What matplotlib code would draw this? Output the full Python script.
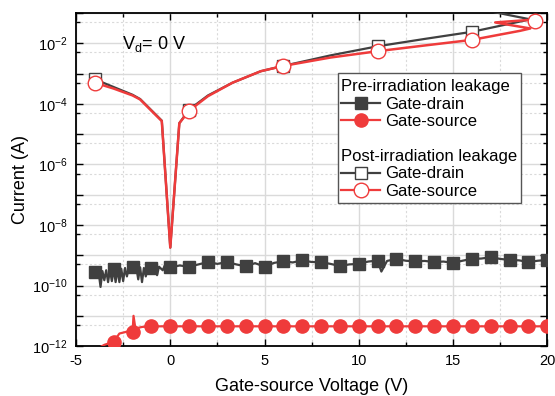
import numpy as np
import matplotlib.pyplot as plt
from matplotlib.lines import Line2D
from matplotlib.patches import Rectangle
from matplotlib.ticker import LogLocator, FuncFormatter, MultipleLocator

plt.rcParams['font.family'] = ['Liberation Sans', 'DejaVu Sans']
plt.rcParams['mathtext.fontset'] = 'custom'
plt.rcParams['mathtext.rm'] = 'Liberation Sans'
plt.rcParams['mathtext.default'] = 'regular'
plt.rcParams['axes.unicode_minus'] = False

# pre-irradiation gate-drain leakage (dense sweep, markers at integer volts)
pre_gd_v = [-4.0, -3.8, -3.7, -3.6, -3.5, -3.4, -3.3, -3.2, -3.1, -3.0, -2.9, -2.8,
            -2.7, -2.6, -2.5, -2.4, -2.3, -2.2, -2.0, -1.8, -1.7, -1.6, -1.5, -1.4,
            -1.3, -1.2, -1.0, -0.8, -0.7, -0.6, -0.4, -0.3, -0.1, 0.0, 0.5, 1.0,
            1.5, 2.0, 2.5, 3.0, 3.5, 4.0, 4.5, 5.0, 5.5, 6.0, 6.5, 7.0, 7.5, 8.0,
            8.5, 9.0, 9.5, 10.0, 10.5, 11.0, 11.2, 11.5, 12.0, 12.5, 13.0, 13.5,
            14.0, 14.5, 15.0, 15.5, 16.0, 16.5, 17.0, 17.5, 18.0, 18.5, 19.0, 19.5, 20.0]
pre_gd_i = [2.8e-10, 2.7e-10, 9e-11, 3.0e-10, 1.5e-10, 3.2e-10, 1.3e-10, 3.3e-10, 1.4e-10,
            3.5e-10, 1.3e-10, 3.5e-10, 1.3e-10, 3.6e-10, 1.4e-10, 3.8e-10, 2.0e-10, 4.0e-10,
            4.2e-10, 3.9e-10, 1.6e-10, 4.0e-10, 1.3e-10, 3.8e-10, 2.0e-10, 3.9e-10, 3.8e-10,
            3.9e-10, 2.2e-10, 4.2e-10, 3.2e-10, 4.5e-10, 4.3e-10, 4.0e-10, 4.6e-10, 4.2e-10,
            5.0e-10, 6.0e-10, 5.2e-10, 6.0e-10, 5.0e-10, 4.3e-10, 5.5e-10, 4.2e-10, 5.6e-10,
            6.3e-10, 5.8e-10, 6.8e-10, 6.0e-10, 5.9e-10, 5.2e-10, 4.4e-10, 5.0e-10, 5.2e-10,
            6.2e-10, 6.7e-10, 2.9e-10, 6.5e-10, 7.6e-10, 6.6e-10, 6.3e-10, 6.5e-10, 6.0e-10,
            6.2e-10, 5.6e-10, 6.6e-10, 7.6e-10, 7.8e-10, 8.6e-10, 7.6e-10, 7.0e-10, 6.8e-10,
            6.0e-10, 6.6e-10, 7.0e-10]

# pre-irradiation gate-source leakage
pre_gs_v = [-3.75, -3.5, -3.0, -2.7, -2.3, -2.0, -1.95, -1.85, -1.5, -1.0,
            0, 1, 2, 3, 4, 5, 6, 7, 8, 9, 10, 11, 12, 13, 14, 15, 16, 17, 18, 19, 20]
pre_gs_i = [9e-13, 1.1e-12, 1.4e-12, 2.6e-12, 3.0e-12, 3.0e-12, 1.0e-11, 3.8e-12, 4.3e-12, 4.5e-12,
            4.5e-12, 4.5e-12, 4.5e-12, 4.5e-12, 4.5e-12, 4.5e-12, 4.5e-12, 4.5e-12, 4.5e-12,
            4.5e-12, 4.5e-12, 4.5e-12, 4.5e-12, 4.5e-12, 4.5e-12, 4.5e-12, 4.5e-12, 4.5e-12,
            4.5e-12, 4.5e-12, 4.5e-12]

# post-irradiation leakage
post_gd_v = [-4, -3, -2, -1.6, -0.45, 0, 0.48, 1, 2, 3.3, 4.8, 6, 8.5, 11, 13.5, 16, 19.1, 17.1]
post_gd_i = [6.5e-4, 3.6e-4, 2e-4, 1.45e-4, 2.8e-5, 1.8e-9, 2.3e-5, 6.5e-5, 1.9e-4, 5e-4,
             1.2e-3, 1.8e-3, 4.0e-3, 8.0e-3, 1.4e-2, 2.4e-2, 6.2e-2, 1.1e-1]
post_gd_marks = [0, 7, 11, 13, 15]

post_gs_v = [-4, -3, -2, -1.6, -0.45, 0, 0.48, 1, 2, 3.3, 4.8, 6, 8.5, 11, 13.5, 16,
             18.57, 19.1, 17.24, 18.99, 19.36]
post_gs_i = [5e-4, 3.2e-4, 1.9e-4, 1.4e-4, 2.7e-5, 1.8e-9, 2.3e-5, 6e-5, 1.8e-4, 5e-4,
             1.2e-3, 1.8e-3, 3.4e-3, 5.5e-3, 8.5e-3, 1.3e-2, 2.6e-2, 3.1e-2, 4.9e-2, 5.9e-2, 5.5e-2]
post_gs_marks = [0, 7, 11, 13, 15, 20]

dark = '#404040'
red = '#ef3b3b'

fig = plt.figure(figsize=(5.55, 3.96), dpi=100)
ax = fig.add_axes([0.137, 0.126, 0.849, 0.841])

gd_marks = [k for k, v in enumerate(pre_gd_v) if float(v).is_integer()]
gs_marks = [k for k, v in enumerate(pre_gs_v) if float(v).is_integer()]

ax.plot(pre_gd_v, pre_gd_i, color=dark, lw=1.6, marker='s', ms=8.3,
        markevery=gd_marks, zorder=3)
ax.plot(pre_gs_v, pre_gs_i, color=red, lw=1.6, marker='o', ms=9.5,
        markevery=gs_marks, zorder=3)
ax.plot(post_gd_v, post_gd_i, color=dark, lw=1.6, marker='s', ms=8,
        mfc='white', mec=dark, mew=1.0, markevery=post_gd_marks, zorder=3)
ax.plot(post_gs_v, post_gs_i, color=red, lw=1.8, marker='o', ms=10.5,
        mfc='white', mec=red, mew=1.0, markevery=post_gs_marks, zorder=3)

ax.set_yscale('log')
ax.set_xlim(-5, 20)
ax.set_ylim(1e-12, 1e-1)
ax.xaxis.set_major_locator(MultipleLocator(5))
ax.xaxis.set_minor_locator(MultipleLocator(2.5))
ax.yaxis.set_major_locator(LogLocator(base=10, subs=(1.0,), numticks=20))
ax.yaxis.set_minor_locator(LogLocator(base=10, subs=(5.0,), numticks=20))


def ylab(v, pos):
    e = int(round(np.log10(v)))
    return r'$10^{%d}$' % e if e % 2 == 0 else ''


ax.yaxis.set_major_formatter(FuncFormatter(ylab))
ax.set_axisbelow(True)
ax.grid(which='major', color='#dadada', lw=1.0, ls='-')
ax.grid(which='minor', color='#dadada', lw=0.8, ls=(0, (2, 2)))
ax.tick_params(which='both', direction='in', top=True, right=True, labelsize=10.5)
ax.tick_params(which='major', length=5, width=1, pad=6)
ax.tick_params(which='minor', length=3, width=1)
for s in ax.spines.values():
    s.set_linewidth(1.3)

ax.set_xlabel('Gate-source Voltage (V)', fontsize=13)
ax.set_ylabel('Current (A)', fontsize=13)
ax.xaxis.set_label_coords(0.5, -0.095)
ax.yaxis.set_label_coords(-0.1, 0.5)

ax.text(0.098, 0.907, r'V$_{d}$= 0 V', transform=ax.transAxes, fontsize=13, va='center')

# legend: two titled groups inside one frame
h_pre = [Line2D([], [], color=dark, lw=1.6, marker='s', ms=8.3),
         Line2D([], [], color=red, lw=1.6, marker='o', ms=9.5)]
h_post = [Line2D([], [], color=dark, lw=1.6, marker='s', ms=8, mfc='white', mec=dark),
          Line2D([], [], color=red, lw=1.6, marker='o', ms=10.5, mfc='white', mec=red)]
names = ['Gate-drain', 'Gate-source']
kw = dict(loc='upper left', borderaxespad=0, borderpad=0.2, handlelength=2.3,
          handletextpad=0.3, labelspacing=0.15, frameon=False, fontsize=12,
          title_fontsize=12, alignment='left')
leg1 = ax.legend(h_pre, names, title='Pre-irradiation leakage',
                 bbox_to_anchor=(0.556, 0.812), **kw)
ax.add_artist(leg1)
leg2 = ax.legend(h_post, names, title='Post-irradiation leakage',
                 bbox_to_anchor=(0.556, 0.602), **kw)
ax.add_patch(Rectangle((0.556, 0.43), 0.389, 0.39, transform=ax.transAxes,
                       facecolor='white', edgecolor='#555555', lw=1, zorder=4))

fig.savefig('out.png', dpi=100)
